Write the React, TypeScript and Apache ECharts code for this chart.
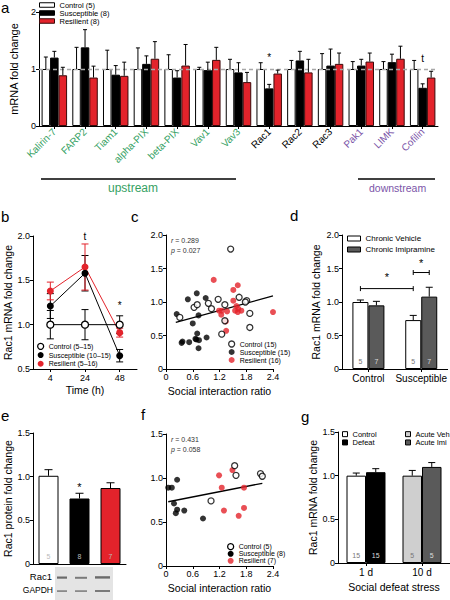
import React, { useEffect, useRef } from "react";
import * as echarts from "echarts";

const FONT = "Liberation Sans, Arial, sans-serif";
const RED = "#e3232b";
const GREEN = "#35a163";
const PURPLE = "#7b55a8";
const DGRAY = "#5a5a5a";
const LGRAY = "#cfcfcf";

// ---------- Panel a ----------
const aGenes = ["Kalirin-7", "FARP2", "Tiam1", "alpha-PIX", "beta-PIX", "Vav1", "Vav3", "Rac1", "Rac2", "Rac3", "Pak1", "LIMK", "Cofilin"];
const aGeneKind = ["up", "up", "up", "up", "up", "up", "up", "mid", "mid", "mid", "down", "down", "down"];
const aControl = [1, 1, 1, 1, 1, 1, 1, 1, 1, 1, 1, 1, 1];
const aControlErr = [0.21, 0.38, 0.33, 0.37, 0.25, 0.03, 0.17, 0.11, 0.15, 0.27, 0.13, 0.13, 0.15];
const aSusc = [1.2, 1.38, 0.9, 1.09, 0.85, 0.98, 0.94, 0.66, 1.15, 1.06, 1.06, 1.12, 0.67];
const aSuscErr = [0.11, 0.31, 0.16, 0.14, 0.12, 0.14, 0.17, 0.07, 0.16, 0.29, 0.11, 0.14, 0.07];
const aRes = [0.89, 0.85, 0.88, 1.18, 1.06, 1.16, 0.77, 0.92, 0.94, 1.09, 1.13, 1.18, 0.85];
const aResErr = [0.14, 0.2, 0.24, 0.3, 0.37, 0.22, 0.17, 0.06, 0.23, 0.19, 0.15, 0.22, 0.11];
const aSig = [
  { cat: 7, bar: 1, y: 1.2, text: "*" },
  { cat: 12, bar: 1, y: 1.19, text: "t" },
];
const aLegend = ["Control (5)", "Susceptible (8)", "Resilient (8)"];

// ---------- Panel b ----------
const bTimes = ["4", "24", "48"];
const bControl = [1.0, 1.0, 1.0];
const bControlErr = [0.16, 0.17, 0.1];
const bSusc = [1.21, 1.58, 0.65];
const bSuscErr = [0.14, 0.2, 0.07];
const bRes = [1.38, 1.65, 0.91];
const bResErr = [0.1, 0.26, 0.05];
const bSig = [
  { cat: 1, y: 2.0, text: "t" },
  { cat: 2, y: 1.22, text: "*" },
];
const bLegend = ["Control (5–15)", "Susceptible (10–15)", "Resilient (5–16)"];

// ---------- Panel c ----------
const cControl = [
  [0.31, 0.77], [0.63, 0.92], [0.7, 0.96], [0.95, 0.98], [1.02, 0.9], [1.17, 1.04], [1.32, 0.96], [1.32, 0.72],
  [1.25, 0.52], [1.64, 1.07], [1.81, 1.02], [1.88, 0.83], [1.88, 0.62], [1.45, 1.79], [1.78, 1.0],
];
const cSusc = [
  [0.24, 0.82], [0.49, 1.04], [0.69, 1.13], [0.89, 1.06], [0.6, 0.68], [0.73, 0.8], [0.37, 0.41], [0.35, 0.39],
  [0.52, 0.4], [0.66, 0.45], [0.7, 0.53], [0.74, 0.43], [0.73, 0.31], [0.91, 0.47], [0.68, 0.44],
];
const cRes = [
  [1.07, 1.33], [1.19, 0.87], [1.24, 0.81], [1.37, 0.86], [1.34, 0.71], [1.35, 0.57], [1.51, 1.18], [1.61, 1.25],
  [1.51, 1.02], [1.58, 0.94], [1.61, 0.85], [1.69, 0.87], [1.62, 0.9], [2.4, 0.85], [1.25, 0.87], [1.55, 0.87],
];
const cFit = [[0.22, 0.695], [2.4, 1.09]];
const cStats = ["0.289", "0.027"];
const cLegend = ["Control (15)", "Susceptible (15)", "Resilient (16)"];

// ---------- Panel d ----------
const dGroups = ["Control", "Susceptible"];
const dVehicle = [1.0, 0.73];
const dVehicleErr = [0.03, 0.07];
const dImi = [0.95, 1.08];
const dImiErr = [0.06, 0.14];
const dVehicleN = ["5", "5"];
const dImiN = ["7", "7"];
const dBrackets = [
  { c1: 0, b1: 0, c2: 1, b2: 0, y: 1.2, starY: 1.37 },
  { c1: 1, b1: 0, c2: 1, b2: 1, y: 1.44, starY: 1.58 },
];
const dLegend = ["Chronic Vehicle", "Chronic Imipramine"];

// ---------- Panel e ----------
const eGroups = ["Control", "Susceptible", "Resilient"];
const eValues = [1.01, 0.75, 0.87];
const eErr = [0.07, 0.06, 0.06];
const eN = ["5", "8", "7"];
const eSig = [{ cat: 1, y: 0.88, text: "*" }];

// ---------- Panel f ----------
const fControl = [[1.54, 1.14], [1.57, 1.03], [2.12, 1.05], [2.16, 1.02], [1.01, 0.74]];
const fSusc = [[0.05, 0.89], [0.13, 0.89], [0.25, 0.98], [0.18, 0.71], [0.22, 0.6], [0.25, 0.64], [0.41, 0.63], [0.83, 0.54]];
const fRes = [[1.19, 1.03], [1.49, 1.09], [1.25, 0.89], [1.75, 0.89], [1.3, 0.63], [1.75, 0.66], [1.63, 0.57]];
const fFit = [[0.05, 0.73], [2.16, 0.94]];
const fStats = ["0.431", "0.058"];
const fLegend = ["Control (5)", "Susceptible (8)", "Resilient (7)"];

// ---------- Panel g ----------
const gGroups = ["1 d", "10 d"];
const gControl = [1.0, "-"];
const gDefeat = [1.04, "-"];
const gVeh = ["-", 1.0];
const gImi = ["-", 1.1];
const gControlErr = [0.03];
const gDefeatErr = [0.04];
const gVehErr = [0.06];
const gImiErr = [0.05];
const gN1 = ["15", "15"];
const gN2 = ["5", "5"];

// ---------- helpers ----------
const txt = { fontFamily: FONT, color: "#000" };

function valAxis(grid: number, min: number, max: number, interval: number, extra: any = {}) {
  return {
    type: "value",
    gridIndex: grid,
    min,
    max,
    interval,
    axisLine: { show: true, onZero: false, lineStyle: { color: "#000", width: 1 } },
    axisTick: { show: true, length: 3, lineStyle: { color: "#000" } },
    axisLabel: {
      ...txt,
      fontSize: 9,
      margin: 3,
      formatter: (v: number) => (v === 0 ? "0" : interval < 1 ? v.toFixed(1) : String(v)),
    },
    splitLine: { show: false },
    nameLocation: "middle",
    nameTextStyle: { ...txt, fontSize: 10.5 },
    ...extra,
  };
}

function catAxis(grid: number, data: string[], extra: any = {}) {
  return {
    type: "category",
    gridIndex: grid,
    data,
    axisLine: { show: true, onZero: false, lineStyle: { color: "#000", width: 1 } },
    axisTick: { show: true, length: 3, alignWithLabel: true, lineStyle: { color: "#000" } },
    axisLabel: { ...txt, fontSize: 10, margin: 4, interval: 0 },
    splitLine: { show: false },
    nameLocation: "middle",
    nameTextStyle: { ...txt, fontSize: 10.5 },
    ...extra,
  };
}

function errSeries(axis: number, vals: any[], errs: number[], n: number, idx: number, barW: (band: number) => number, cap: number, sym = false, color = "#000", cats?: number[]) {
  const data: number[][] = [];
  errs.forEach((e, i) => {
    const ci = cats ? cats[i] : i;
    data.push([ci, Number(vals[ci]), e]);
  });
  return {
    type: "custom",
    xAxisIndex: axis,
    yAxisIndex: axis,
    z: 6,
    silent: true,
    data,
    encode: { x: 0, y: 1 },
    renderItem: (_p: any, api: any) => {
      const cat = api.value(0);
      const v = api.value(1);
      const e = api.value(2);
      const band = api.size([1, 0])[0];
      const bw = barW(band);
      const dx = (idx - (n - 1) / 2) * bw;
      const c = api.coord([cat, v]);
      const t = api.coord([cat, v + e]);
      const b = sym ? api.coord([cat, v - e]) : c;
      const x = c[0] + dx;
      const style = { stroke: color, lineWidth: 1 };
      const ch: any[] = [
        { type: "line", shape: { x1: x, y1: b[1], x2: x, y2: t[1] }, style },
        { type: "line", shape: { x1: x - cap / 2, y1: t[1], x2: x + cap / 2, y2: t[1] }, style },
      ];
      if (sym) ch.push({ type: "line", shape: { x1: x - cap / 2, y1: b[1], x2: x + cap / 2, y2: b[1] }, style });
      return { type: "group", children: ch };
    },
  };
}

function sigSeries(axis: number, sigs: { cat: number; bar?: number; y: number; text: string }[], n: number, barW: (band: number) => number, fontSize: number) {
  return {
    type: "custom",
    xAxisIndex: axis,
    yAxisIndex: axis,
    z: 7,
    silent: true,
    data: sigs.map((s) => [s.cat, s.y, s.bar || 0]),
    encode: { x: 0, y: 1 },
    renderItem: (p: any, api: any) => {
      const s = sigs[p.dataIndex];
      const band = api.size([1, 0])[0];
      const bw = barW(band);
      const dx = ((s.bar || 0) - (n - 1) / 2) * bw;
      const c = api.coord([s.cat, s.y]);
      return {
        type: "text",
        style: { text: s.text, x: c[0] + dx, y: c[1], align: "center", verticalAlign: "middle", fontSize, fontFamily: FONT, fill: "#000" },
      };
    },
  };
}

function openCircle() {
  return { color: "#fff", borderColor: "#000", borderWidth: 1.3 };
}

function scatterSeries(axis: number, name: string, data: number[][], style: any, z = 3) {
  return { type: "scatter", name, xAxisIndex: axis, yAxisIndex: axis, data, symbolSize: 6, itemStyle: style, z };
}

function buildOption() {
  const aBw = (band: number) => (band * 0.83) / 3;
  const dBw = () => 16;
  const eBw = () => 20;
  const gBw = () => 19.5;

  const grids = [
    { left: 36, top: 12, width: 402, height: 114 },
    { left: 33, top: 236, width: 104, height: 133 },
    { left: 166, top: 235, width: 107, height: 134 },
    { left: 342, top: 235, width: 106, height: 134 },
    { left: 33, top: 433, width: 93, height: 131 },
    { left: 166, top: 434, width: 107, height: 132 },
    { left: 338, top: 432, width: 122, height: 131 },
  ];

  const xAxis: any[] = [
    catAxis(0, aGenes, {
      axisLabel: {
        ...txt,
        fontSize: 10,
        rotate: 45,
        margin: 4,
        interval: 0,
        color: (_v: any, i: number) => (aGeneKind[i] === "up" ? GREEN : aGeneKind[i] === "down" ? PURPLE : "#000"),
      },
    }),
    catAxis(1, bTimes, { name: "Time (h)", nameGap: 15, axisLabel: { ...txt, fontSize: 9, margin: 4 } }),
    valAxis(2, 0, 2.4, 0.6, { name: "Social interaction ratio", nameGap: 16 }),
    catAxis(3, dGroups, {}),
    catAxis(4, eGroups, { axisLabel: { show: false }, axisTick: { show: false } }),
    valAxis(5, 0, 2.4, 0.6, { name: "Social interaction ratio", nameGap: 16 }),
    catAxis(6, gGroups, { name: "Social defeat stress", nameGap: 18 }),
  ];
  const yAxis: any[] = [
    valAxis(0, 0, 2, 1, { name: "mRNA fold change", nameGap: 20, nameTextStyle: { ...txt, fontSize: 11 } }),
    valAxis(1, 0.5, 2.0, 0.5, { name: "Rac1 mRNA fold change", nameGap: 20 }),
    valAxis(2, 0, 2.0, 0.5),
    valAxis(3, 0, 2.0, 0.5, { name: "Rac1 mRNA fold change", nameGap: 21 }),
    valAxis(4, 0, 1.5, 0.5, { name: "Rac1 protein fold change", nameGap: 18 }),
    valAxis(5, 0, 1.5, 0.5),
    valAxis(6, 0, 1.5, 0.5, { name: "Rac1 mRNA fold change", nameGap: 20 }),
  ];

  const barBorder = { borderColor: "#000", borderWidth: 1 };
  const nLabel = (arr: string[], color: string) => ({
    show: true,
    position: "insideBottom",
    distance: 4,
    formatter: (p: any) => arr[p.dataIndex] || "",
    color,
    fontSize: 7,
    fontFamily: FONT,
  });

  const series: any[] = [
    // a: dashed reference line (behind bars)
    {
      type: "line",
      xAxisIndex: 0,
      yAxisIndex: 0,
      data: [],
      z: 1,
      markLine: {
        silent: true,
        symbol: ["none", "none"],
        label: { show: false },
        lineStyle: { type: [4, 3], color: "#a8a8a8", width: 1.3 },
        data: [{ yAxis: 1 }],
      },
    },
    { type: "bar", name: aLegend[0], xAxisIndex: 0, yAxisIndex: 0, data: aControl, barGap: "0%", barCategoryGap: "17%", itemStyle: { color: "#fff", ...barBorder }, z: 2 },
    { type: "bar", name: aLegend[1], xAxisIndex: 0, yAxisIndex: 0, data: aSusc, itemStyle: { color: "#000", ...barBorder }, z: 2 },
    { type: "bar", name: aLegend[2], xAxisIndex: 0, yAxisIndex: 0, data: aRes, itemStyle: { color: RED, borderColor: "#3a0a0a", borderWidth: 1 }, z: 2 },
    errSeries(0, aControl, aControlErr, 3, 0, aBw, 4),
    errSeries(0, aSusc, aSuscErr, 3, 1, aBw, 4),
    errSeries(0, aRes, aResErr, 3, 2, aBw, 4),
    sigSeries(0, aSig, 3, aBw, 10),

    // b
    errSeries(1, bSusc, bSuscErr, 1, 0, () => 0, 7, true, "#000"),
    errSeries(1, bRes, bResErr, 1, 0, () => 0, 7, true, RED),
    errSeries(1, bControl, bControlErr, 1, 0, () => 0, 7, true, "#000"),
    { type: "line", name: bLegend[2], xAxisIndex: 1, yAxisIndex: 1, data: bRes, symbol: "circle", symbolSize: 7, itemStyle: { color: RED }, lineStyle: { color: RED, width: 1 }, z: 8 },
    { type: "line", name: bLegend[1], xAxisIndex: 1, yAxisIndex: 1, data: bSusc, symbol: "circle", symbolSize: 7, itemStyle: { color: "#000" }, lineStyle: { color: "#000", width: 1 }, z: 9 },
    { type: "line", name: bLegend[0], xAxisIndex: 1, yAxisIndex: 1, data: bControl, symbol: "circle", symbolSize: 7, itemStyle: openCircle(), lineStyle: { color: "#000", width: 1 }, z: 10 },
    sigSeries(1, bSig, 1, () => 0, 10),

    // c
    { type: "line", xAxisIndex: 2, yAxisIndex: 2, data: cFit, symbol: "none", lineStyle: { color: "#000", width: 1.3 }, z: 2 },
    scatterSeries(2, cLegend[0], cControl, openCircle(), 4),
    scatterSeries(2, cLegend[1], cSusc, { color: "#000" }, 3),
    scatterSeries(2, cLegend[2], cRes, { color: RED }, 3),

    // d
    { type: "bar", name: dLegend[0], xAxisIndex: 3, yAxisIndex: 3, data: dVehicle, barWidth: 16, barGap: "0%", itemStyle: { color: "#fff", ...barBorder }, label: nLabel(dVehicleN, "#777") },
    { type: "bar", name: dLegend[1], xAxisIndex: 3, yAxisIndex: 3, data: dImi, barWidth: 16, itemStyle: { color: DGRAY, ...barBorder }, label: nLabel(dImiN, "#ddd") },
    errSeries(3, dVehicle, dVehicleErr, 2, 0, dBw, 7),
    errSeries(3, dImi, dImiErr, 2, 1, dBw, 7),
    {
      type: "custom",
      xAxisIndex: 3,
      yAxisIndex: 3,
      silent: true,
      z: 7,
      data: dBrackets.map((b) => [b.c1, b.y]),
      encode: { x: 0, y: 1 },
      renderItem: (p: any, api: any) => {
        const b = dBrackets[p.dataIndex];
        const bw = dBw();
        const p1 = api.coord([b.c1, b.y]);
        const p2 = api.coord([b.c2, b.y]);
        const x1 = p1[0] + (b.b1 - 0.5) * bw;
        const x2 = p2[0] + (b.b2 - 0.5) * bw;
        const y = p1[1];
        const s = api.coord([b.c1, b.starY])[1];
        const style = { stroke: "#000", lineWidth: 1 };
        return {
          type: "group",
          children: [
            { type: "line", shape: { x1, y1: y, x2, y2: y }, style },
            { type: "line", shape: { x1, y1: y - 2.5, x2: x1, y2: y + 2.5 }, style },
            { type: "line", shape: { x1: x2, y1: y - 2.5, x2, y2: y + 2.5 }, style },
            { type: "text", style: { text: "*", x: (x1 + x2) / 2, y: s, align: "center", verticalAlign: "middle", fontSize: 11, fontFamily: FONT, fill: "#000" } },
          ],
        };
      },
    },

    // e
    {
      type: "bar",
      xAxisIndex: 4,
      yAxisIndex: 4,
      barWidth: 20,
      data: eValues.map((v, i) => ({ value: v, itemStyle: { color: ["#fff", "#000", RED][i], ...barBorder } })),
      label: {
        show: true,
        position: "insideBottom",
        distance: 4,
        formatter: (p: any) => eN[p.dataIndex],
        color: "#bbb",
        fontSize: 7,
        fontFamily: FONT,
      },
    },
    errSeries(4, eValues, eErr, 1, 0, eBw, 8),
    sigSeries(4, eSig, 1, eBw, 11),

    // f
    { type: "line", xAxisIndex: 5, yAxisIndex: 5, data: fFit, symbol: "none", lineStyle: { color: "#000", width: 1.3 }, z: 2 },
    scatterSeries(5, fLegend[0], fControl, openCircle(), 4),
    scatterSeries(5, fLegend[1], fSusc, { color: "#000" }, 3),
    scatterSeries(5, fLegend[2], fRes, { color: RED }, 3),

    // g
    { type: "bar", name: "Control", xAxisIndex: 6, yAxisIndex: 6, stack: "g1", data: gControl, barWidth: 19.5, barGap: "0%", itemStyle: { color: "#fff", ...barBorder }, label: nLabel([gN1[0]], "#777") },
    { type: "bar", name: "Acute Veh", xAxisIndex: 6, yAxisIndex: 6, stack: "g1", data: gVeh, barWidth: 19.5, itemStyle: { color: LGRAY, ...barBorder }, label: nLabel(["", gN2[0]], "#777") },
    { type: "bar", name: "Defeat", xAxisIndex: 6, yAxisIndex: 6, stack: "g2", data: gDefeat, barWidth: 19.5, itemStyle: { color: "#000", ...barBorder }, label: nLabel([gN1[1]], "#ddd") },
    { type: "bar", name: "Acute Imi", xAxisIndex: 6, yAxisIndex: 6, stack: "g2", data: gImi, barWidth: 19.5, itemStyle: { color: DGRAY, ...barBorder }, label: nLabel(["", gN2[1]], "#ddd") },
    errSeries(6, gControl, gControlErr, 2, 0, gBw, 7, false, "#000", [0]),
    errSeries(6, gDefeat, gDefeatErr, 2, 1, gBw, 7, false, "#000", [0]),
    errSeries(6, gVeh, gVehErr, 2, 0, gBw, 7, false, "#000", [1]),
    errSeries(6, gImi, gImiErr, 2, 1, gBw, 7, false, "#000", [1]),
  ];

  const legBase = { orient: "vertical", padding: 0, selectedMode: false, itemGap: 0 };
  const legend: any[] = [
    {
      ...legBase,
      left: 39,
      top: 1,
      itemWidth: 15,
      itemHeight: 4.5,
      icon: "rect",
      textStyle: { ...txt, fontSize: 7.5, lineHeight: 7.7 },
      data: [
        { name: aLegend[0], itemStyle: { color: "#fff", borderColor: "#000", borderWidth: 1 } },
        { name: aLegend[1], itemStyle: { color: "#000", borderColor: "#000", borderWidth: 1 } },
        { name: aLegend[2], itemStyle: { color: RED, borderColor: "#3a0a0a", borderWidth: 1 } },
      ],
    },
    {
      ...legBase,
      left: 37,
      top: 342,
      itemWidth: 6,
      itemHeight: 6,
      textStyle: { ...txt, fontSize: 7, lineHeight: 8.7 },
      data: [
        { name: bLegend[0], icon: "circle", itemStyle: openCircle() },
        { name: bLegend[1], icon: "circle", itemStyle: { color: "#000", borderWidth: 0 } },
        { name: bLegend[2], icon: "circle", itemStyle: { color: RED, borderWidth: 0 } },
      ],
    },
    {
      ...legBase,
      left: 228,
      top: 340,
      itemWidth: 6,
      itemHeight: 6,
      textStyle: { ...txt, fontSize: 7, lineHeight: 8 },
      data: [
        { name: cLegend[0], icon: "circle", itemStyle: openCircle() },
        { name: cLegend[1], icon: "circle", itemStyle: { color: "#000", borderWidth: 0 } },
        { name: cLegend[2], icon: "circle", itemStyle: { color: RED, borderWidth: 0 } },
      ],
    },
    {
      ...legBase,
      left: 347,
      top: 234,
      itemWidth: 13,
      itemHeight: 5,
      icon: "rect",
      itemGap: 2,
      textStyle: { ...txt, fontSize: 8, lineHeight: 9 },
      data: [
        { name: dLegend[0], itemStyle: { color: "#fff", borderColor: "#000", borderWidth: 1 } },
        { name: dLegend[1], itemStyle: { color: DGRAY, borderColor: "#000", borderWidth: 1 } },
      ],
    },
    {
      ...legBase,
      left: 227,
      top: 543,
      itemWidth: 6,
      itemHeight: 6,
      textStyle: { ...txt, fontSize: 7, lineHeight: 6.8 },
      data: [
        { name: fLegend[0], icon: "circle", itemStyle: openCircle() },
        { name: fLegend[1], icon: "circle", itemStyle: { color: "#000", borderWidth: 0 } },
        { name: fLegend[2], icon: "circle", itemStyle: { color: RED, borderWidth: 0 } },
      ],
    },
    {
      ...legBase,
      left: 342,
      top: 430,
      itemWidth: 5,
      itemHeight: 5,
      icon: "rect",
      textStyle: { ...txt, fontSize: 7.5, lineHeight: 8.3 },
      data: [
        { name: "Control", itemStyle: { color: "#fff", borderColor: "#000", borderWidth: 1 } },
        { name: "Defeat", itemStyle: { color: "#000", borderColor: "#000", borderWidth: 1 } },
      ],
    },
    {
      ...legBase,
      left: 405,
      top: 430,
      itemWidth: 5,
      itemHeight: 5,
      icon: "rect",
      textStyle: { ...txt, fontSize: 7.5, lineHeight: 8.3 },
      data: [
        { name: "Acute Veh", itemStyle: { color: LGRAY, borderColor: "#000", borderWidth: 1 } },
        { name: "Acute Imi", itemStyle: { color: DGRAY, borderColor: "#000", borderWidth: 1 } },
      ],
    },
  ];

  const letter = (t: string, x: number, y: number) => ({
    type: "text",
    left: x,
    top: y,
    style: { text: t, fontSize: 15, fontFamily: FONT, fill: "#000" },
  });
  const stat = (x: number, y: number, sym: string, v: string) => ({
    type: "text",
    left: x,
    top: y,
    style: {
      text: `{i|${sym}} = ${v}`,
      fontSize: 7,
      fontFamily: FONT,
      fill: "#333",
      rich: { i: { fontStyle: "italic", fontSize: 7, fontFamily: FONT, fill: "#333" } },
    },
  });

  const graphic: any[] = [
    letter("a", 1, 0),
    letter("b", 1, 209),
    letter("c", 131, 209),
    letter("d", 290, 208),
    letter("e", 1, 408),
    letter("f", 141, 407),
    letter("g", 301, 409),
    { type: "line", shape: { x1: 41, y1: 179, x2: 236, y2: 179 }, style: { stroke: "#000", lineWidth: 1.3 } },
    { type: "line", shape: { x1: 358, y1: 179, x2: 435, y2: 179 }, style: { stroke: "#000", lineWidth: 1.3 } },
    { type: "text", left: 108, top: 182, style: { text: "upstream", fontSize: 12, fontFamily: FONT, fill: GREEN } },
    { type: "text", left: 369, top: 182, style: { text: "downstream", fontSize: 10.5, fontFamily: FONT, fill: PURPLE } },
    stat(171, 237, "r", cStats[0]),
    stat(171, 247, "p", cStats[1]),
    stat(171, 436, "r", fStats[0]),
    stat(171, 446, "p", fStats[1]),
    // western blot strip (panel e)
    { type: "rect", shape: { x: 55, y: 567, width: 58, height: 33 }, style: { fill: "#e4e4e4" } },
    { type: "rect", shape: { x: 57, y: 576.5, width: 10, height: 2.2 }, style: { fill: "#6a6a6a" } },
    { type: "rect", shape: { x: 75, y: 576.8, width: 12, height: 2 }, style: { fill: "#7a7a7a" } },
    { type: "rect", shape: { x: 95, y: 576.2, width: 15, height: 2.4 }, style: { fill: "#6a6a6a" } },
    { type: "rect", shape: { x: 57, y: 590.2, width: 10, height: 1.8 }, style: { fill: "#8a8a8a" } },
    { type: "rect", shape: { x: 75, y: 590.2, width: 12, height: 1.8 }, style: { fill: "#8a8a8a" } },
    { type: "rect", shape: { x: 95, y: 590, width: 15, height: 2 }, style: { fill: "#7a7a7a" } },
    { type: "text", right: 398, top: 571, style: { text: "Rac1", fontSize: 9.5, fontFamily: FONT, fill: "#000" } },
    { type: "text", right: 397, top: 585, style: { text: "GAPDH", fontSize: 8.5, fontFamily: FONT, fill: "#000" } },
  ];

  return {
    animation: false,
    backgroundColor: "#fff",
    textStyle: { fontFamily: FONT },
    grid: grids,
    xAxis,
    yAxis,
    series,
    legend,
    graphic,
  };
}

export default function App() {
  const ref = useRef<HTMLDivElement>(null);
  useEffect(() => {
    const chart = echarts.init(ref.current!, null, { renderer: "svg" });
    chart.setOption(buildOption() as any);
    return () => chart.dispose();
  }, []);
  return <div ref={ref} style={{ position: "fixed", left: 0, top: 0, width: 450, height: 600, background: "#fff" }} />;
}
